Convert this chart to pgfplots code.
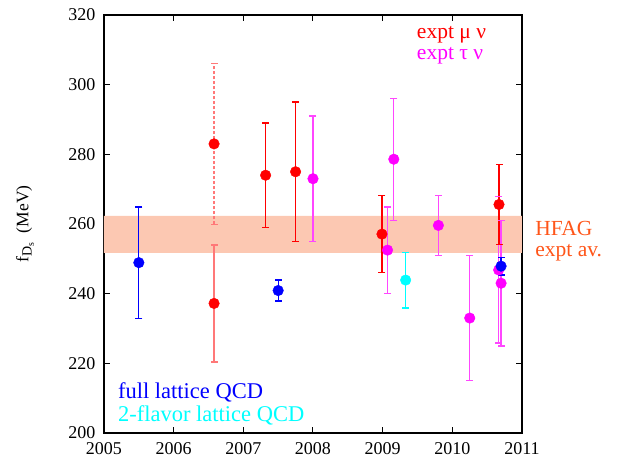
\documentclass[border=0pt]{standalone}
\usepackage{fontspec}
\setmainfont{Liberation Serif}
\usepackage{pgfplots}
\pgfplotsset{compat=1.18}
\definecolor{band}{RGB}{252,200,178}
\definecolor{hfag}{RGB}{255,85,25}
\definecolor{cred}{RGB}{255,0,0}
\definecolor{cblue}{RGB}{0,0,255}
\definecolor{ccyan}{RGB}{0,255,255}
\definecolor{cmag}{RGB}{255,0,255}
\definecolor{redbar}{RGB}{255,120,120}
\definecolor{magbar}{RGB}{255,70,255}
\begin{document}
\begin{tikzpicture}
\begin{axis}[
  width=418bp, height=418bp, scale only axis,
  xmin=2005, xmax=2011, ymin=200, ymax=320,
  xtick={2005,2006,2007,2008,2009,2010,2011},
  ytick={200,220,240,260,280,300,320},
  tick align=inside, major tick length=6bp,
  axis line style={line width=1.2bp},
  tick style={line width=1bp, black},
  clip=false,
  /pgf/number format/1000 sep={},
  /pgf/number format/assume math mode=true,
  ticklabel style={font=\fontsize{18bp}{20bp}\selectfont},
  yticklabel style={xshift=-5bp},
  xticklabel style={yshift=-6bp},
  ylabel={f\textsubscript{\fontsize{14bp}{14bp}\selectfont D\textsubscript{s}}~~(MeV)},
  ylabel style={font=\fontsize{17.5bp}{20bp}\selectfont, at={(axis description cs:-0.189,0.5)}, anchor=center},
  eb/.style={color=#1, line width=1.3bp, mark=-, mark size=3.5bp, mark options={solid, line width=1.3bp}, forget plot},
  pt/.style={only marks, mark=*, mark size=5.3bp, color=#1},
]
% HFAG band
\addplot[draw=none, fill=band, forget plot] coordinates {(2005,251.7) (2011,251.7) (2011,262.3) (2005,262.3) (2005,251.7)};

% ---- error bars (low, high) ----
% expt tau nu
\addplot[eb=magbar] coordinates {(2008.00,255.0) (2008.00,291.0)};
\addplot[eb=magbar] coordinates {(2009.07,240.1) (2009.07,264.9)};
\addplot[eb=magbar] coordinates {(2009.16,261.1) (2009.16,296.1)};
\addplot[eb=magbar] coordinates {(2009.80,251.0) (2009.80,268.2)};
\addplot[eb=magbar] coordinates {(2010.25,215.0) (2010.25,251.0)};
\addplot[eb=magbar] coordinates {(2010.665,225.8) (2010.665,267.8)};
\addplot[eb=magbar] coordinates {(2010.70,225.0) (2010.70,261.0)};
% expt mu nu
\addplot[eb=redbar, dash pattern=on 3bp off 2bp] coordinates {(2006.58,259.9) (2006.58,306.1)};
\addplot[eb=redbar] coordinates {(2006.58,220.4) (2006.58,254.0)};
\addplot[eb=cred] coordinates {(2007.32,259.0) (2007.32,289.0)};
\addplot[eb=cred] coordinates {(2007.75,255.0) (2007.75,295.0)};
\addplot[eb=cred] coordinates {(2008.99,246.1) (2008.99,268.1)};
\addplot[eb=cred] coordinates {(2010.67,254.2) (2010.67,277.0)};
% 2-flavor lattice
\addplot[eb=ccyan] coordinates {(2009.33,235.9) (2009.33,251.9)};
% full lattice
\addplot[eb=cblue] coordinates {(2005.50,232.9) (2005.50,264.9)};
\addplot[eb=cblue] coordinates {(2007.50,237.9) (2007.50,243.9)};
\addplot[eb=cblue] coordinates {(2010.70,245.4) (2010.70,250.4)};

% ---- central values ----
\addplot[pt=cmag] coordinates {
  (2008.00,273.0) (2009.07,252.5) (2009.16,278.6) (2009.80,259.6)
  (2010.25,233.0) (2010.665,246.8) (2010.70,243.0)};
\addplot[pt=cred] coordinates {
  (2006.58,283.0) (2006.58,237.2) (2007.32,274.0) (2007.75,275.0)
  (2008.99,257.1) (2010.67,265.6)};
\addplot[pt=ccyan] coordinates {(2009.33,243.9)};
\addplot[pt=cblue] coordinates {(2005.50,248.9) (2007.50,240.9) (2010.70,247.9)};

\node[anchor=base west, text=cred, inner sep=0pt, font=\fontsize{21.5bp}{24bp}\selectfont] at (axis cs:2009.49,313.2) {expt μ ν};
\node[anchor=base west, text=cmag, inner sep=0pt, font=\fontsize{21.5bp}{24bp}\selectfont] at (axis cs:2009.49,307.3) {expt τ ν};
\node[anchor=base west, text=cblue, inner sep=0pt, font=\fontsize{22.5bp}{26bp}\selectfont] at (axis cs:2005.20,210.0) {full lattice QCD};
\node[anchor=base west, text=ccyan, inner sep=0pt, font=\fontsize{22.5bp}{26bp}\selectfont] at (axis cs:2005.20,203.3) {2-flavor lattice QCD};
\node[anchor=base west, text=hfag, inner sep=0pt, font=\fontsize{21.5bp}{24bp}\selectfont] at (axis cs:2011.19,256.6) {HFAG};
\node[anchor=base west, text=hfag, inner sep=0pt, font=\fontsize{21.5bp}{24bp}\selectfont] at (axis cs:2011.19,250.7) {expt av.};
\end{axis}
\pgfresetboundingbox
\path[use as bounding box] (current axis.south west) ++(-104bp,-29bp) rectangle ++(621bp,462bp);
\end{tikzpicture}
\end{document}
